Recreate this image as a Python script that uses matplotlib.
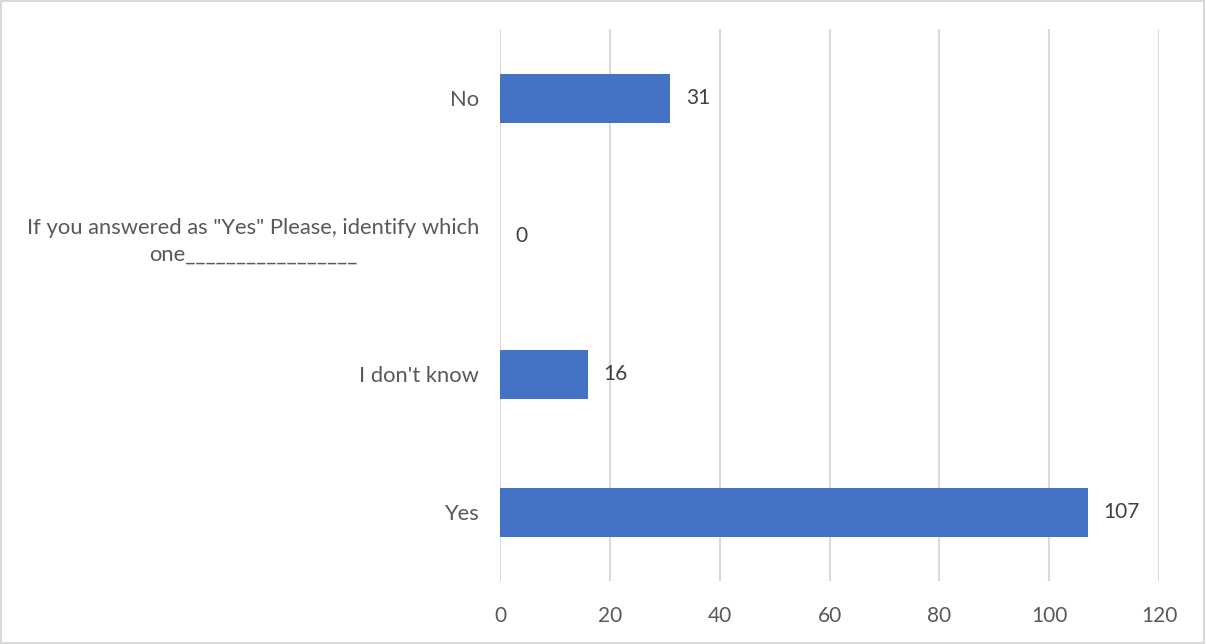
import matplotlib.pyplot as plt

categories = ["Yes", "I don't know",
              'If you answered as "Yes" Please, identify which\none_________________',
              "No"]
values = [107, 16, 0, 31]

plt.rcParams['font.family'] = ['Lato', 'DejaVu Sans']
txt = '#595959'

fig = plt.figure(figsize=(12.06, 6.44), dpi=100)
ax = fig.add_axes([0.4146, 0.0978, 0.5466, 0.857])

pos = list(range(len(categories)))
ax.barh(pos, values, height=0.355, color='#4472C4', zorder=3)
for p, v in zip(pos, values):
    ax.text(v + 2.8, p, str(v), va='center', ha='left', fontsize=15, color='#404040')

ax.set_xlim(0, 120)
ax.set_ylim(-0.5, 3.5)
ax.set_xticks(range(0, 121, 20))
ax.set_yticks(pos)
ax.set_yticklabels(categories, multialignment='center', linespacing=1.4, fontsize=15.8)
ax.tick_params(axis='both', length=0, labelcolor=txt)
ax.tick_params(axis='x', labelsize=15, pad=18)
ax.tick_params(axis='y', pad=15)
ax.grid(axis='x', color='#d9d9d9', linewidth=1.5, zorder=0)
for s in ax.spines.values():
    s.set_visible(False)

fig.patches.append(plt.Rectangle((0.001, 0.002), 0.997, 0.996, transform=fig.transFigure,
                                 fill=False, edgecolor='#d9d9d9', linewidth=1.5))
fig.savefig('out.png', dpi=100)
